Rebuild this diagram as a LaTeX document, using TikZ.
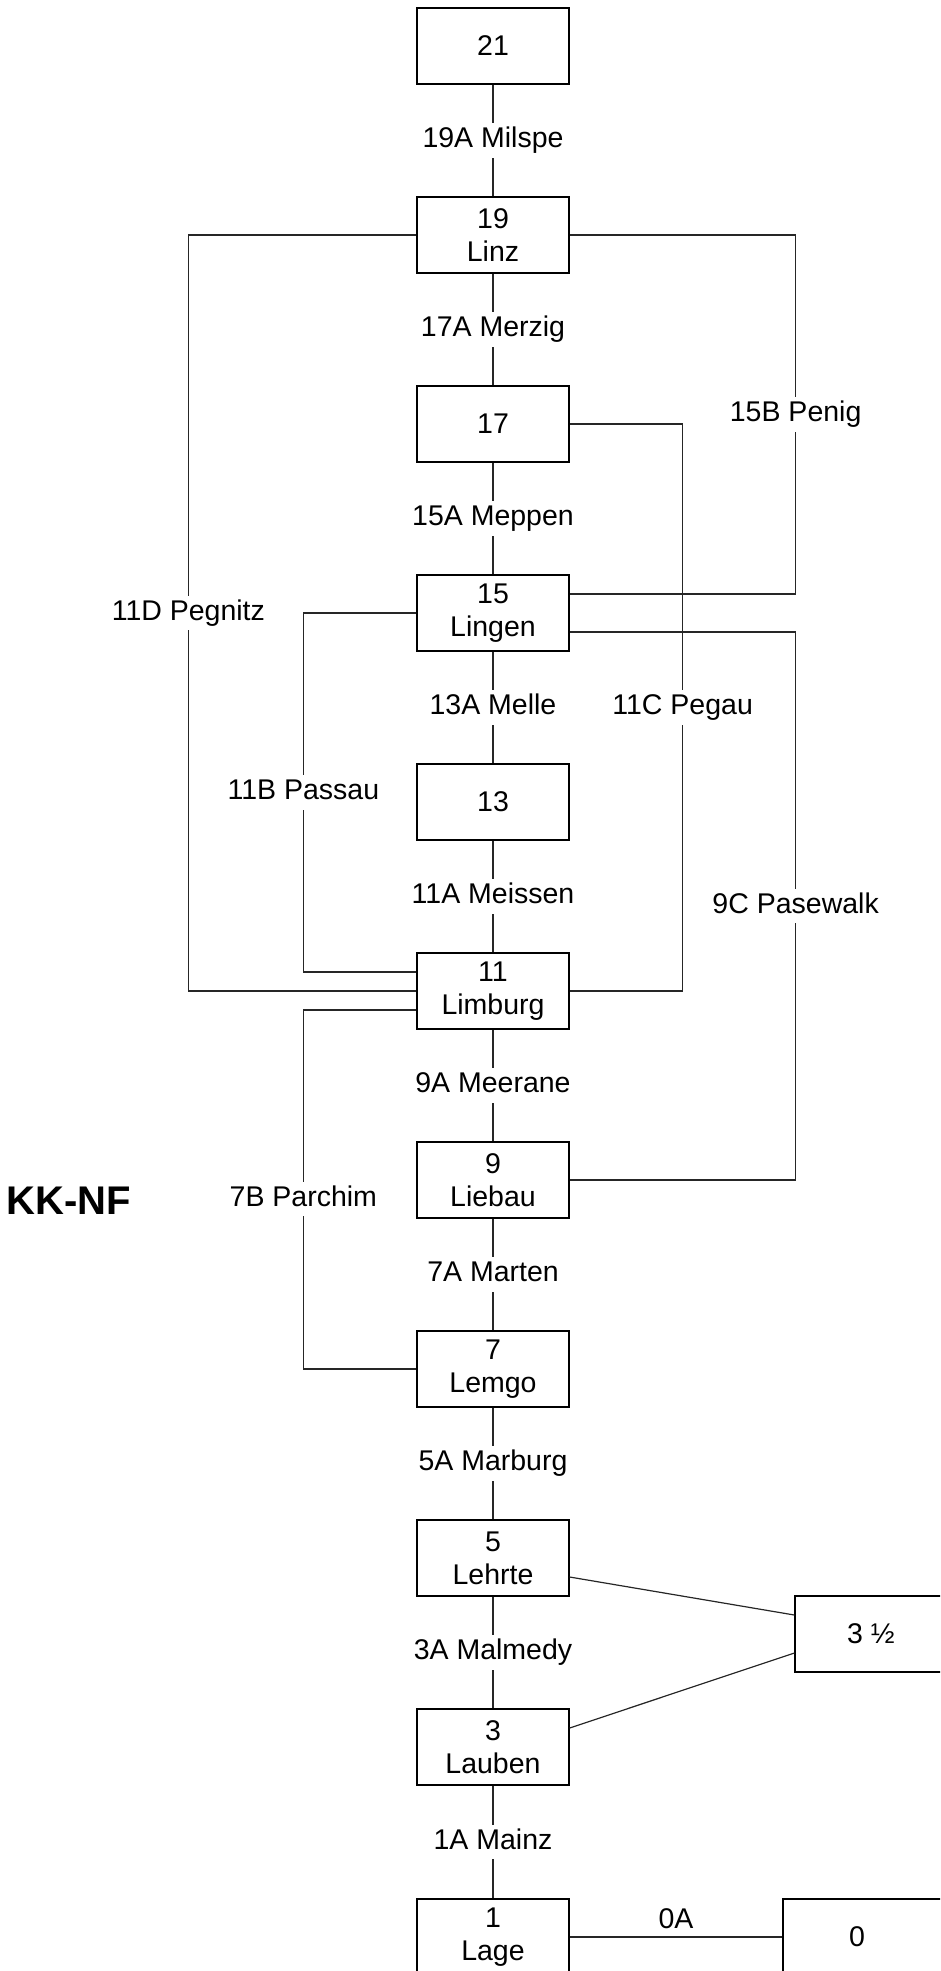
\documentclass[tikz,border=0pt]{standalone}
\usepackage{fontspec}
\setmainfont{Liberation Sans}
\begin{document}
\begin{tikzpicture}[x=1pt,y=-1pt,
  box/.style={draw=black, line width=1.3pt, minimum width=152pt, minimum height=76pt,
    inner sep=0pt, align=center, font=\fontsize{28.5}{33}\selectfont},
  conn/.style={draw=black!85, line width=1.2pt},
  lbl/.style={fill=white, inner xsep=2pt, inner ysep=3.5pt, text height=21pt,
    text depth=6.5pt, font=\fontsize{28.5}{33}\selectfont},
  title/.style={inner sep=0pt, font=\bfseries\fontsize{40}{46}\selectfont}]
\path[use as bounding box] (0,0) rectangle (940,1971);
\clip (0,0) rectangle (940,1971);

% main column
\node[box] (n21) at (493,46) {21};
\node[box] (n19) at (493,235) {19\\Linz};
\node[box] (n17) at (493,424) {17};
\node[box] (n15) at (493,613) {15\\Lingen};
\node[box] (n13) at (493,802) {13};
\node[box] (n11) at (493,991) {11\\Limburg};
\node[box] (n9)  at (493,1180) {9\\Liebau};
\node[box] (n7)  at (493,1369) {7\\Lemgo};
\node[box] (n5)  at (493,1558) {5\\Lehrte};
\node[box] (n3)  at (493,1747) {3\\Lauben};
\node[box] (n1)  at (493,1937) {1\\Lage};
\node[box] (n35) at (871,1634) {3 ½};
\node[box, minimum width=160pt] (n0) at (863,1937) {\kern-12pt 0};
\node[title, anchor=east] (kk) at (131,1201) {KK-NF};

% vertical links
\draw[conn] (n21) -- node[lbl]{19A Milspe} (n19);
\draw[conn] (n19) -- node[lbl]{17A Merzig} (n17);
\draw[conn] (n17) -- node[lbl]{15A Meppen} (n15);
\draw[conn] (n15) -- node[lbl]{13A Melle} (n13);
\draw[conn] (n13) -- node[lbl]{11A Meissen} (n11);
\draw[conn] (n11) -- node[lbl]{9A Meerane} (n9);
\draw[conn] (n9)  -- node[lbl]{7A Marten} (n7);
\draw[conn] (n7)  -- node[lbl]{5A Marburg} (n5);
\draw[conn] (n5)  -- node[lbl]{3A Malmedy} (n3);
\draw[conn] (n3)  -- node[lbl]{1A Mainz} (n1);

% side links
\draw[conn] (n19.west) -- ++(-228,0) |- node[lbl,pos=0.25]{11D Pegnitz} (n11.west);
\draw[conn] (n19.east) -- ++(226,0) |- node[lbl,pos=0.25]{15B Penig} ([yshift=19pt]n15.east);
\draw[conn] (n17.east) -- ++(113,0) |- node[lbl,pos=0.25]{11C Pegau} (n11.east);
\draw[conn] (n15.west) -- ++(-113,0) |- node[lbl,pos=0.25]{11B Passau} ([yshift=19pt]n11.west);
\draw[conn] ([yshift=-19pt]n15.east) -- ++(226,0) |- node[lbl,pos=0.25]{9C Pasewalk} (n9.east);
\draw[conn] ([yshift=-19pt]n11.west) -- ++(-113,0) |- node[lbl,pos=0.263]{7B Parchim} (n7.west);

% links to 3 1/2 and 0
\draw[conn] ([yshift=-19pt]n5.east) -- ([yshift=19pt]n35.west);
\draw[conn] ([yshift=19pt]n3.east) -- ([yshift=-19pt]n35.west);
\draw[conn] (n1) -- node[above, inner sep=8pt, font=\fontsize{28.5}{33}\selectfont]{0A} (n0);
\end{tikzpicture}
\end{document}
